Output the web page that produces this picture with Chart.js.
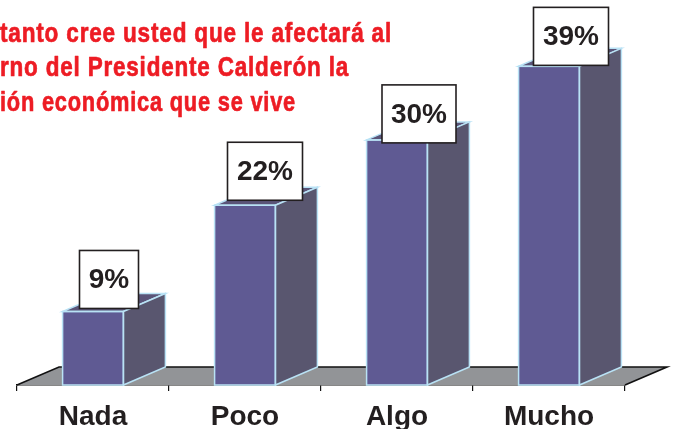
<!DOCTYPE html>
<html><head><meta charset="utf-8">
<style>html,body{margin:0;padding:0;background:#fff}canvas{display:block}</style>
<script src="https://cdn.jsdelivr.net/npm/chart.js@4"></script>
</head><body>
<div style="width:677px;height:429px"><canvas id="c" width="677" height="429"></canvas></div>
<script>
const categories = ["Nada", "Poco", "Algo", "Mucho"];
const values = [9, 22, 30, 39];
const labels = ["9%", "22%", "30%", "39%"];
const titleLines = ["tanto cree usted que le afectará al", "rno del Presidente Calderón la", "ión económica que se vive"];

const DX = 42, DY = 18;
const titleFit = [392, 349, 296];
const boxStyle = [
  { w: 59, dx: 16, dy: -3 },
  { w: 75, dx: 20, dy: -5 },
  { w: 74, dx: 22, dy: 3 },
  { w: 75, dx: 22, dy: -1 }
];
const poly = (ctx, pts, fill, stroke, lw) => {
  ctx.beginPath();
  pts.forEach((p, i) => i ? ctx.lineTo(p[0], p[1]) : ctx.moveTo(p[0], p[1]));
  ctx.closePath();
  if (fill) { ctx.fillStyle = fill; ctx.fill(); }
  if (stroke) { ctx.strokeStyle = stroke; ctx.lineWidth = lw || 1; ctx.stroke(); }
};
const scene = {
  id: "scene",
  beforeDatasetsDraw(chart) {
    const { ctx, chartArea: a } = chart;
    ctx.save();
    const b = a.bottom;
    poly(ctx, [[a.left, b], [a.right, b], [a.right + DX, b - DY], [a.left + DX, b - DY]], "#929497");
    ctx.strokeStyle = "#111"; ctx.lineWidth = 1.6;
    ctx.beginPath();
    ctx.moveTo(a.left, b); ctx.lineTo(a.left + DX, b - DY); ctx.lineTo(a.right + DX, b - DY); ctx.lineTo(a.right, b);
    ctx.stroke();
    ctx.restore();
  },
  afterDatasetsDraw(chart) {
    const { ctx } = chart;
    const meta = chart.getDatasetMeta(0);
    ctx.save();
    const edge = "#b9e2f5";
    meta.data.forEach((bar) => {
      const l = bar.x - bar.width / 2, r = bar.x + bar.width / 2, t = bar.y, b = bar.base;
      poly(ctx, [[l, t], [r, t], [r + DX, t - DY], [l + DX, t - DY]], "#5a5478", edge, 1.5);
      poly(ctx, [[r, t], [r + DX, t - DY], [r + DX, b - DY], [r, b]], "#59566f", edge, 1.5);
      ctx.strokeStyle = edge; ctx.lineWidth = 1.5;
      ctx.strokeRect(l, t, bar.width, b - t);
    });
    meta.data.forEach((bar, i) => {
      const s = boxStyle[i], h = 58;
      const cx = bar.x + s.dx, yb = bar.y + s.dy;
      ctx.fillStyle = "#fff"; ctx.fillRect(cx - s.w / 2, yb - h, s.w, h);
      ctx.strokeStyle = "#231f20"; ctx.lineWidth = 1.6; ctx.strokeRect(cx - s.w / 2, yb - h, s.w, h);
      ctx.fillStyle = "#231f20"; ctx.font = "bold 28px 'Liberation Sans'";
      ctx.textAlign = "center"; ctx.textBaseline = "middle";
      ctx.fillText(labels[i], cx, yb - h / 2 + 1);
    });
    ctx.fillStyle = "#ed1c24"; ctx.strokeStyle = "#ed1c24"; ctx.lineWidth = 0.7; ctx.lineJoin = "round";
    ctx.font = "bold 28px 'Liberation Sans'";
    ctx.textAlign = "left"; ctx.textBaseline = "alphabetic";
    if ("letterSpacing" in ctx) ctx.letterSpacing = "1px";
    titleLines.forEach((s, i) => {
      const k = titleFit[i] / ctx.measureText(s).width;
      ctx.save();
      ctx.scale(k, 1);
      ctx.fillText(s, 0, 41.5 + i * 34.5);
      ctx.strokeText(s, 0, 41.5 + i * 34.5);
      ctx.restore();
    });
    ctx.restore();
  }
};
new Chart(document.getElementById("c"), {
  type: "bar",
  data: { labels: categories, datasets: [{ data: values, backgroundColor: "#5f5a93", barPercentage: 0.8, categoryPercentage: 0.5 }] },
  options: {
    responsive: false, animation: false,
    layout: { padding: { left: 17, right: 52, top: 1, bottom: 0 } },
    plugins: { legend: { display: false }, tooltip: { enabled: false }, title: { display: false } },
    scales: {
      y: { display: false, min: 0, max: 47 },
      x: {
        afterFit(scale) { scale.height = 44; },
        border: { display: true, color: "#111", width: 1.6 },
        grid: { display: true, drawOnChartArea: false, drawTicks: true, tickLength: 6, color: "#111", lineWidth: 1.2 },
        ticks: { color: "#231f20", font: { family: "'Liberation Sans'", weight: "bold", size: 28 }, padding: 9, maxRotation: 0 }
      }
    }
  },
  plugins: [scene]
});
</script>
</body></html>
